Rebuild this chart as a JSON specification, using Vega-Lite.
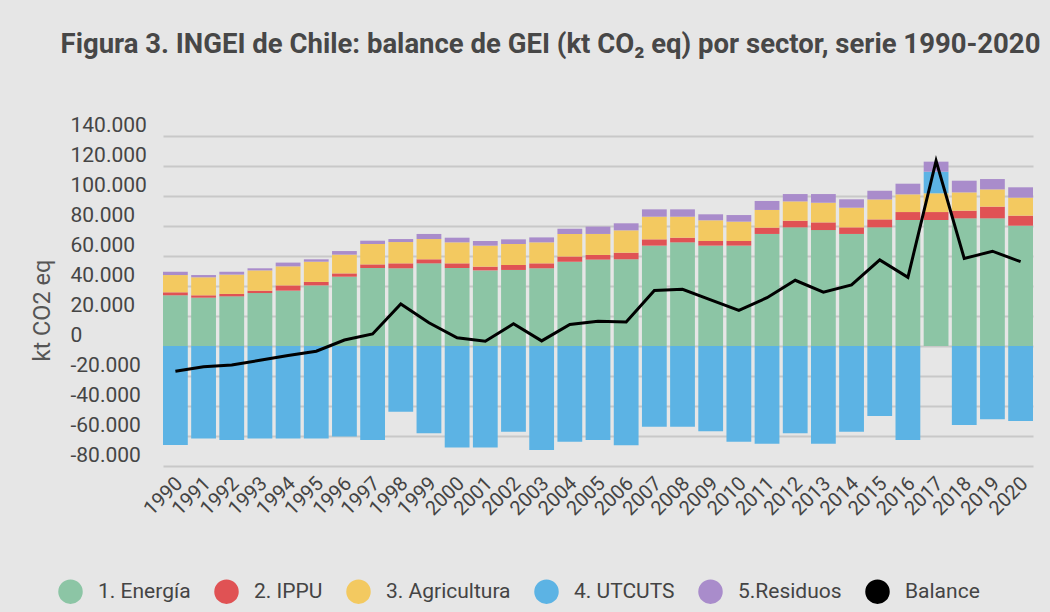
{
  "$schema": "https://vega.github.io/schema/vega-lite/v6.json",
  "width": 965,
  "height": 330,
  "autosize": {"type": "none"},
  "padding": {"left": 68, "top": 136, "right": 17, "bottom": 146},
  "background": "#e6e6e6",
  "title": {
    "text": "Figura 3. INGEI de Chile: balance de GEI (kt CO₂ eq) por sector, serie 1990-2020",
    "anchor": "middle",
    "font": "Roboto",
    "fontSize": 27.5,
    "fontWeight": "bold",
    "color": "#474747",
    "baseline": "alphabetic",
    "offset": 34
  },
  "config": {
    "view": {"stroke": null},
    "locale": {
      "number": {"decimal": ",", "thousands": ".", "grouping": [3], "currency": ["$", ""], "minus": "-"}
    },
    "font": "Roboto",
    "axisY": {
      "title": "kt CO2 eq",
      "values": [-80000, -60000, -40000, -20000, 0, 20000, 40000, 60000, 80000, 100000, 120000, 140000],
      "format": ",d",
      "domain": false,
      "ticks": false,
      "grid": true,
      "gridColor": "#c8c8c8",
      "gridWidth": 2,
      "labelOverlap": false,
      "labelFlush": false,
      "labelAlign": "left",
      "labelBaseline": "alphabetic",
      "labelPadding": -2,
      "labelOffset": -5,
      "labelFont": "Roboto",
      "labelFontSize": 21,
      "labelColor": "#454545",
      "titleFont": "Roboto",
      "titleFontSize": 23.5,
      "titleFontWeight": "normal",
      "titleColor": "#555555",
      "titleX": -19,
      "titleY": 174,
      "titleAngle": -90,
      "titleAlign": "center",
      "titleBaseline": "alphabetic"
    }
  },
  "datasets": {
    "sectores": [
      {"year": "1990", "sector": "1. Energía", "value": 33800},
      {"year": "1990", "sector": "2. IPPU", "value": 2000},
      {"year": "1990", "sector": "3. Agricultura", "value": 11500},
      {"year": "1990", "sector": "4. UTCUTS", "value": -66000},
      {"year": "1990", "sector": "5.Residuos", "value": 2200},
      {"year": "1991", "sector": "1. Energía", "value": 32200},
      {"year": "1991", "sector": "2. IPPU", "value": 1600},
      {"year": "1991", "sector": "3. Agricultura", "value": 12000},
      {"year": "1991", "sector": "4. UTCUTS", "value": -61600},
      {"year": "1991", "sector": "5.Residuos", "value": 1500},
      {"year": "1992", "sector": "1. Energía", "value": 33100},
      {"year": "1992", "sector": "2. IPPU", "value": 1600},
      {"year": "1992", "sector": "3. Agricultura", "value": 12900},
      {"year": "1992", "sector": "4. UTCUTS", "value": -62700},
      {"year": "1992", "sector": "5.Residuos", "value": 1900},
      {"year": "1993", "sector": "1. Energía", "value": 35300},
      {"year": "1993", "sector": "2. IPPU", "value": 1600},
      {"year": "1993", "sector": "3. Agricultura", "value": 13500},
      {"year": "1993", "sector": "4. UTCUTS", "value": -61600},
      {"year": "1993", "sector": "5.Residuos", "value": 1400},
      {"year": "1994", "sector": "1. Energía", "value": 36900},
      {"year": "1994", "sector": "2. IPPU", "value": 3500},
      {"year": "1994", "sector": "3. Agricultura", "value": 12700},
      {"year": "1994", "sector": "4. UTCUTS", "value": -61600},
      {"year": "1994", "sector": "5.Residuos", "value": 2500},
      {"year": "1995", "sector": "1. Energía", "value": 40400},
      {"year": "1995", "sector": "2. IPPU", "value": 2300},
      {"year": "1995", "sector": "3. Agricultura", "value": 13500},
      {"year": "1995", "sector": "4. UTCUTS", "value": -61600},
      {"year": "1995", "sector": "5.Residuos", "value": 1600},
      {"year": "1996", "sector": "1. Energía", "value": 46200},
      {"year": "1996", "sector": "2. IPPU", "value": 2200},
      {"year": "1996", "sector": "3. Agricultura", "value": 12500},
      {"year": "1996", "sector": "4. UTCUTS", "value": -60400},
      {"year": "1996", "sector": "5.Residuos", "value": 2400},
      {"year": "1997", "sector": "1. Energía", "value": 52000},
      {"year": "1997", "sector": "2. IPPU", "value": 2400},
      {"year": "1997", "sector": "3. Agricultura", "value": 13600},
      {"year": "1997", "sector": "4. UTCUTS", "value": -62700},
      {"year": "1997", "sector": "5.Residuos", "value": 2200},
      {"year": "1998", "sector": "1. Energía", "value": 51800},
      {"year": "1998", "sector": "2. IPPU", "value": 3300},
      {"year": "1998", "sector": "3. Agricultura", "value": 14200},
      {"year": "1998", "sector": "4. UTCUTS", "value": -43800},
      {"year": "1998", "sector": "5.Residuos", "value": 2000},
      {"year": "1999", "sector": "1. Energía", "value": 55100},
      {"year": "1999", "sector": "2. IPPU", "value": 2700},
      {"year": "1999", "sector": "3. Agricultura", "value": 13500},
      {"year": "1999", "sector": "4. UTCUTS", "value": -58200},
      {"year": "1999", "sector": "5.Residuos", "value": 3400},
      {"year": "2000", "sector": "1. Energía", "value": 52000},
      {"year": "2000", "sector": "2. IPPU", "value": 3100},
      {"year": "2000", "sector": "3. Agricultura", "value": 14000},
      {"year": "2000", "sector": "4. UTCUTS", "value": -67600},
      {"year": "2000", "sector": "5.Residuos", "value": 3100},
      {"year": "2001", "sector": "1. Energía", "value": 50400},
      {"year": "2001", "sector": "2. IPPU", "value": 2500},
      {"year": "2001", "sector": "3. Agricultura", "value": 14000},
      {"year": "2001", "sector": "4. UTCUTS", "value": -67600},
      {"year": "2001", "sector": "5.Residuos", "value": 3100},
      {"year": "2002", "sector": "1. Energía", "value": 50700},
      {"year": "2002", "sector": "2. IPPU", "value": 3300},
      {"year": "2002", "sector": "3. Agricultura", "value": 14000},
      {"year": "2002", "sector": "4. UTCUTS", "value": -57100},
      {"year": "2002", "sector": "5.Residuos", "value": 3100},
      {"year": "2003", "sector": "1. Energía", "value": 51800},
      {"year": "2003", "sector": "2. IPPU", "value": 3300},
      {"year": "2003", "sector": "3. Agricultura", "value": 14000},
      {"year": "2003", "sector": "4. UTCUTS", "value": -69300},
      {"year": "2003", "sector": "5.Residuos", "value": 3300},
      {"year": "2004", "sector": "1. Energía", "value": 56200},
      {"year": "2004", "sector": "2. IPPU", "value": 3400},
      {"year": "2004", "sector": "3. Agricultura", "value": 15100},
      {"year": "2004", "sector": "4. UTCUTS", "value": -63800},
      {"year": "2004", "sector": "5.Residuos", "value": 3500},
      {"year": "2005", "sector": "1. Energía", "value": 57600},
      {"year": "2005", "sector": "2. IPPU", "value": 3100},
      {"year": "2005", "sector": "3. Agricultura", "value": 14000},
      {"year": "2005", "sector": "4. UTCUTS", "value": -62700},
      {"year": "2005", "sector": "5.Residuos", "value": 4900},
      {"year": "2006", "sector": "1. Energía", "value": 57800},
      {"year": "2006", "sector": "2. IPPU", "value": 4400},
      {"year": "2006", "sector": "3. Agricultura", "value": 14900},
      {"year": "2006", "sector": "4. UTCUTS", "value": -66200},
      {"year": "2006", "sector": "5.Residuos", "value": 4700},
      {"year": "2007", "sector": "1. Energía", "value": 66900},
      {"year": "2007", "sector": "2. IPPU", "value": 4200},
      {"year": "2007", "sector": "3. Agricultura", "value": 15100},
      {"year": "2007", "sector": "4. UTCUTS", "value": -53800},
      {"year": "2007", "sector": "5.Residuos", "value": 4900},
      {"year": "2008", "sector": "1. Energía", "value": 69100},
      {"year": "2008", "sector": "2. IPPU", "value": 3100},
      {"year": "2008", "sector": "3. Agricultura", "value": 14000},
      {"year": "2008", "sector": "4. UTCUTS", "value": -53800},
      {"year": "2008", "sector": "5.Residuos", "value": 4900},
      {"year": "2009", "sector": "1. Energía", "value": 66900},
      {"year": "2009", "sector": "2. IPPU", "value": 3100},
      {"year": "2009", "sector": "3. Agricultura", "value": 13800},
      {"year": "2009", "sector": "4. UTCUTS", "value": -56900},
      {"year": "2009", "sector": "5.Residuos", "value": 4000},
      {"year": "2010", "sector": "1. Energía", "value": 66900},
      {"year": "2010", "sector": "2. IPPU", "value": 3100},
      {"year": "2010", "sector": "3. Agricultura", "value": 12900},
      {"year": "2010", "sector": "4. UTCUTS", "value": -63800},
      {"year": "2010", "sector": "5.Residuos", "value": 4400},
      {"year": "2011", "sector": "1. Energía", "value": 74700},
      {"year": "2011", "sector": "2. IPPU", "value": 4200},
      {"year": "2011", "sector": "3. Agricultura", "value": 11800},
      {"year": "2011", "sector": "4. UTCUTS", "value": -65100},
      {"year": "2011", "sector": "5.Residuos", "value": 6000},
      {"year": "2012", "sector": "1. Energía", "value": 79100},
      {"year": "2012", "sector": "2. IPPU", "value": 4400},
      {"year": "2012", "sector": "3. Agricultura", "value": 12900},
      {"year": "2012", "sector": "4. UTCUTS", "value": -58200},
      {"year": "2012", "sector": "5.Residuos", "value": 4900},
      {"year": "2013", "sector": "1. Energía", "value": 77300},
      {"year": "2013", "sector": "2. IPPU", "value": 5100},
      {"year": "2013", "sector": "3. Agricultura", "value": 13100},
      {"year": "2013", "sector": "4. UTCUTS", "value": -65100},
      {"year": "2013", "sector": "5.Residuos", "value": 5800},
      {"year": "2014", "sector": "1. Energía", "value": 74700},
      {"year": "2014", "sector": "2. IPPU", "value": 4400},
      {"year": "2014", "sector": "3. Agricultura", "value": 13100},
      {"year": "2014", "sector": "4. UTCUTS", "value": -57100},
      {"year": "2014", "sector": "5.Residuos", "value": 5600},
      {"year": "2015", "sector": "1. Energía", "value": 79100},
      {"year": "2015", "sector": "2. IPPU", "value": 5300},
      {"year": "2015", "sector": "3. Agricultura", "value": 13300},
      {"year": "2015", "sector": "4. UTCUTS", "value": -46700},
      {"year": "2015", "sector": "5.Residuos", "value": 5800},
      {"year": "2016", "sector": "1. Energía", "value": 84000},
      {"year": "2016", "sector": "2. IPPU", "value": 5300},
      {"year": "2016", "sector": "3. Agricultura", "value": 11800},
      {"year": "2016", "sector": "4. UTCUTS", "value": -62700},
      {"year": "2016", "sector": "5.Residuos", "value": 7100},
      {"year": "2017", "sector": "1. Energía", "value": 84000},
      {"year": "2017", "sector": "2. IPPU", "value": 5300},
      {"year": "2017", "sector": "3. Agricultura", "value": 12500},
      {"year": "2017", "sector": "4. UTCUTS", "value": 14400},
      {"year": "2017", "sector": "5.Residuos", "value": 6700},
      {"year": "2018", "sector": "1. Energía", "value": 85100},
      {"year": "2018", "sector": "2. IPPU", "value": 5100},
      {"year": "2018", "sector": "3. Agricultura", "value": 12200},
      {"year": "2018", "sector": "4. UTCUTS", "value": -52700},
      {"year": "2018", "sector": "5.Residuos", "value": 7800},
      {"year": "2019", "sector": "1. Energía", "value": 85100},
      {"year": "2019", "sector": "2. IPPU", "value": 7800},
      {"year": "2019", "sector": "3. Agricultura", "value": 11500},
      {"year": "2019", "sector": "4. UTCUTS", "value": -48900},
      {"year": "2019", "sector": "5.Residuos", "value": 6900},
      {"year": "2020", "sector": "1. Energía", "value": 80200},
      {"year": "2020", "sector": "2. IPPU", "value": 6700},
      {"year": "2020", "sector": "3. Agricultura", "value": 12000},
      {"year": "2020", "sector": "4. UTCUTS", "value": -50000},
      {"year": "2020", "sector": "5.Residuos", "value": 6900}
    ],
    "balance": [
      {"year": "1990", "value": -16800},
      {"year": "1991", "value": -13800},
      {"year": "1992", "value": -12700},
      {"year": "1993", "value": -9500},
      {"year": "1994", "value": -6300},
      {"year": "1995", "value": -3500},
      {"year": "1996", "value": 4000},
      {"year": "1997", "value": 8000},
      {"year": "1998", "value": 28000},
      {"year": "1999", "value": 15500},
      {"year": "2000", "value": 5500},
      {"year": "2001", "value": 3200},
      {"year": "2002", "value": 14800},
      {"year": "2003", "value": 3400},
      {"year": "2004", "value": 14400},
      {"year": "2005", "value": 16500},
      {"year": "2006", "value": 16000},
      {"year": "2007", "value": 37000},
      {"year": "2008", "value": 37800},
      {"year": "2009", "value": 30800},
      {"year": "2010", "value": 23800},
      {"year": "2011", "value": 32200},
      {"year": "2012", "value": 43800},
      {"year": "2013", "value": 35900},
      {"year": "2014", "value": 40700},
      {"year": "2015", "value": 57400},
      {"year": "2016", "value": 45800},
      {"year": "2017", "value": 123500},
      {"year": "2018", "value": 58300},
      {"year": "2019", "value": 63200},
      {"year": "2020", "value": 56200}
    ]
  },
  "encoding": {
    "x": {
      "field": "year",
      "type": "ordinal",
      "scale": {"range": [95, 965], "paddingInner": 0.12, "paddingOuter": 0},
      "axis": {
        "title": null,
        "domain": false,
        "ticks": false,
        "labelAngle": -45,
        "labelAlign": "right",
        "labelBaseline": "middle",
        "labelPadding": 14,
        "labelOffset": 4,
        "labelFont": "Roboto",
        "labelFontSize": 20,
        "labelColor": "#444444"
      }
    }
  },
  "layer": [
    {
      "data": {"name": "sectores"},
      "mark": {"type": "bar"},
      "encoding": {
        "y": {
          "field": "value",
          "type": "quantitative",
          "stack": "zero",
          "scale": {"domain": [-80000, 140000], "nice": false},
          "title": "kt CO2 eq"
        },
        "color": {
          "field": "sector",
          "type": "nominal",
          "scale": {
            "domain": ["1. Energía", "2. IPPU", "3. Agricultura", "4. UTCUTS", "5.Residuos", "Balance"],
            "range": ["#8cc5a5", "#e05254", "#f3c960", "#5cb3e4", "#a98ccb", "#000000"]
          },
          "legend": {
            "orient": "none",
            "legendX": -10,
            "legendY": 443,
            "direction": "horizontal",
            "title": null,
            "symbolType": "circle",
            "symbolSize": 600,
            "symbolStrokeWidth": 0,
            "labelFont": "Roboto",
            "labelFontSize": 21,
            "labelColor": "#444444",
            "labelOffset": 15,
            "columnPadding": 23,
            "labelLimit": 300
          }
        },
        "order": {"field": "sector", "type": "ordinal", "sort": "ascending"}
      }
    },
    {
      "data": {"name": "balance"},
      "mark": {"type": "line", "color": "#000000", "strokeWidth": 3},
      "encoding": {
        "y": {"field": "value", "type": "quantitative", "title": "kt CO2 eq"}
      }
    }
  ]
}
